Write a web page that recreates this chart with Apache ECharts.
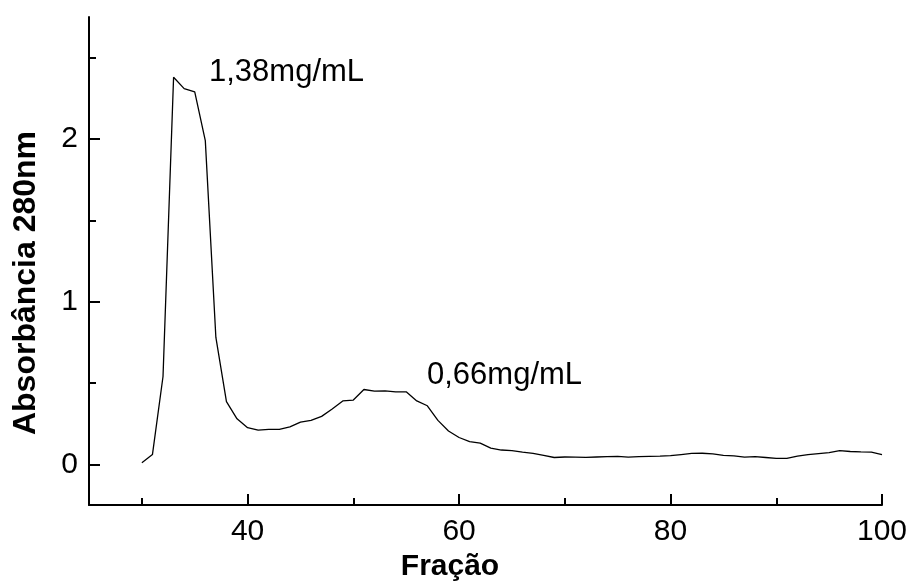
<!DOCTYPE html>
<html>
<head>
<meta charset="utf-8">
<script src="https://cdn.jsdelivr.net/npm/echarts@6/dist/echarts.min.js"></script>
<style>
  html, body { margin: 0; padding: 0; background: #fff; }
  #main { width: 910px; height: 583px; }
</style>
</head>
<body>
<div id="main"></div>
<script>
var fracao = [30, 31, 32, 33, 34, 35, 36, 37, 38, 39,
              40, 41, 42, 43, 44, 45, 46, 47, 48, 49,
              50, 51, 52, 53, 54, 55, 56, 57, 58, 59,
              60, 61, 62, 63, 64, 65, 66, 67, 68, 69,
              70, 71, 72, 73, 74, 75, 76, 77, 78, 79,
              80, 81, 82, 83, 84, 85, 86, 87, 88, 89,
              90, 91, 92, 93, 94, 95, 96, 97, 98, 99, 100];
var absorbancia = [0.01, 0.06, 0.54, 2.38, 2.31, 2.29, 1.99, 0.78, 0.385, 0.28,
                   0.225, 0.21, 0.215, 0.215, 0.23, 0.26, 0.27, 0.295, 0.34, 0.39,
                   0.395, 0.46, 0.45, 0.452, 0.446, 0.446, 0.39, 0.36, 0.27, 0.205,
                   0.165, 0.14, 0.13, 0.1, 0.088, 0.084, 0.075, 0.068, 0.055, 0.042,
                   0.045, 0.044, 0.043, 0.045, 0.047, 0.049, 0.044, 0.047, 0.049, 0.05,
                   0.053, 0.06, 0.067, 0.068, 0.064, 0.055, 0.052, 0.044, 0.047, 0.042,
                   0.037, 0.037, 0.05, 0.06, 0.066, 0.072, 0.084, 0.079, 0.076, 0.075, 0.06];
var xMajor = [40, 60, 80, 100];
var xMinor = [30, 50, 70, 90];
var yMajor = [0, 1, 2];
var yMinor = [0.5, 1.5, 2.5];
var anotacoes = ['1,38mg/mL', '0,66mg/mL'];
var tituloX = 'Fração';
var tituloY = 'Absorbância 280nm';

var dados = [];
for (var i = 0; i < fracao.length; i++) {
    dados.push([fracao[i], absorbancia[i]]);
}

var fonte = 'Liberation Sans';
var myChart = echarts.init(document.getElementById('main'));

var option = {
    backgroundColor: '#fff',
    animation: false,
    grid: { left: 89, right: 28, top: 17, bottom: 78, outerBoundsMode: 'none', containLabel: false },
    xAxis: [
        {
            type: 'value',
            min: 25,
            max: 100,
            axisLine: { show: true, onZero: false, lineStyle: { color: '#000', width: 2 } },
            axisTick: { show: true, inside: true, length: 11, customValues: xMajor, lineStyle: { color: '#000', width: 2 } },
            axisLabel: { customValues: xMajor, margin: 12, fontFamily: fonte, fontSize: 30, color: '#000' },
            splitLine: { show: false }
        },
        {
            type: 'value',
            min: 25,
            max: 100,
            position: 'bottom',
            axisLine: { show: false, onZero: false },
            axisTick: { show: true, inside: true, length: 7, customValues: xMinor, lineStyle: { color: '#000', width: 2 } },
            axisLabel: { show: false },
            splitLine: { show: false }
        }
    ],
    yAxis: [
        {
            type: 'value',
            min: -0.25,
            max: 2.75,
            axisLine: { show: true, onZero: false, lineStyle: { color: '#000', width: 2 } },
            axisTick: { show: true, inside: true, length: 11, customValues: yMajor, lineStyle: { color: '#000', width: 2 } },
            axisLabel: { customValues: yMajor, margin: 11, fontFamily: fonte, fontSize: 30, color: '#000' },
            splitLine: { show: false }
        },
        {
            type: 'value',
            min: -0.25,
            max: 2.75,
            position: 'left',
            axisLine: { show: false, onZero: false },
            axisTick: { show: true, inside: true, length: 7, customValues: yMinor, lineStyle: { color: '#000', width: 2 } },
            axisLabel: { show: false },
            splitLine: { show: false }
        }
    ],
    series: [{
        type: 'line',
        data: dados,
        showSymbol: false,
        smooth: false,
        lineStyle: { color: '#000', width: 1.3 }
    }],
    graphic: [
        {
            type: 'text', x: 209, y: 57,
            style: { text: anotacoes[0], fontFamily: fonte, fontSize: 31, fill: '#000' }
        },
        {
            type: 'text', x: 427, y: 360,
            style: { text: anotacoes[1], fontFamily: fonte, fontSize: 31, fill: '#000' }
        },
        {
            type: 'text', x: 450, y: 567,
            style: { text: tituloX, fontFamily: fonte, fontWeight: 'bold', fontSize: 30, fill: '#000',
                     align: 'center', verticalAlign: 'middle' }
        },
        {
            type: 'text', x: 26, y: 283, rotation: Math.PI / 2,
            style: { text: tituloY, fontFamily: fonte, fontWeight: 'bold', fontSize: 32, fill: '#000',
                     align: 'center', verticalAlign: 'middle' }
        }
    ]
};
myChart.setOption(option);
</script>
</body>
</html>
